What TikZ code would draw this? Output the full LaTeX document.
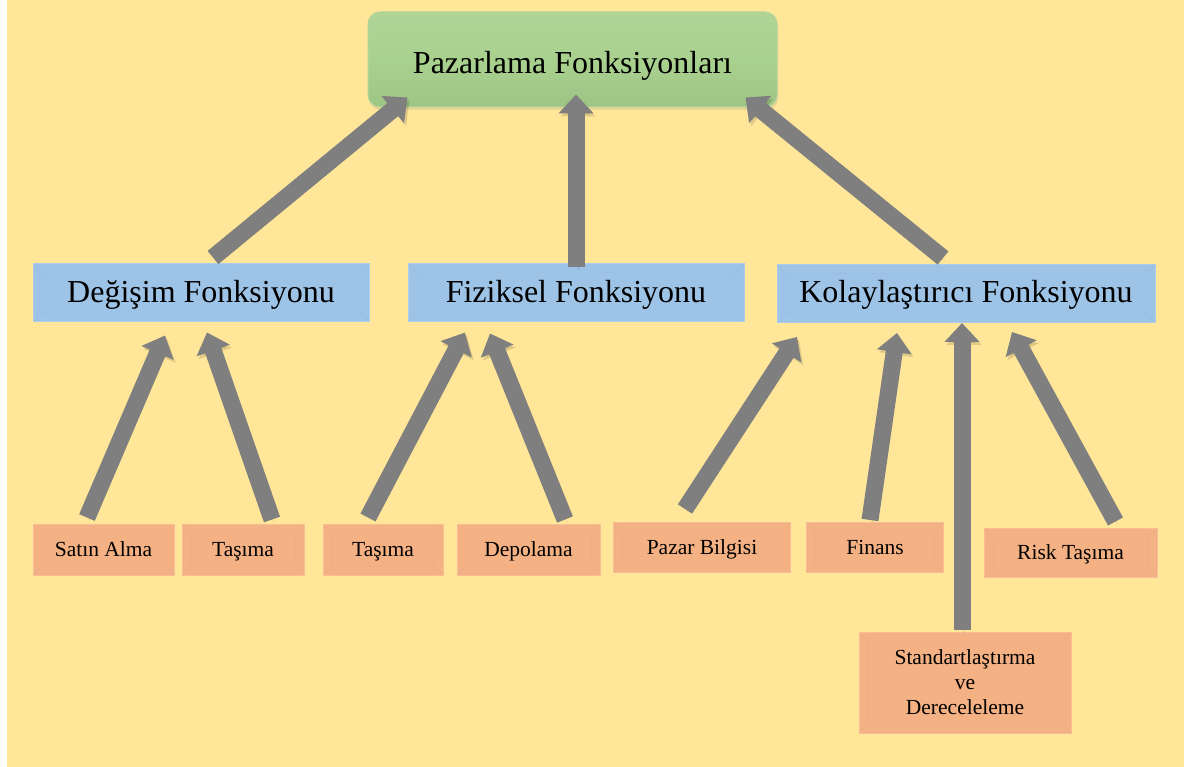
\documentclass[tikz,border=0pt]{standalone}
\usepackage{fontspec}
\setmainfont{Liberation Serif}
\usetikzlibrary{arrows.meta,calc,shadows}

\definecolor{bgyellow}{HTML}{FFE699}
\definecolor{topgreen}{HTML}{A9D18E}
\definecolor{midblue}{HTML}{9DC3E6}
\definecolor{leaforange}{HTML}{F4B183}
\definecolor{arrowgray}{HTML}{7F7F7F}

\tikzset{
  bevel/.style={path picture={
    \coordinate (bnw) at (path picture bounding box.north west);
    \coordinate (bse) at (path picture bounding box.south east);
    \draw[#1!90!black, line width=0.5pt, opacity=0.25]
      ($(bnw)+(9,9)$) rectangle ($(bse)+(-9,-9)$)
      (bnw) -- ($(bnw)+(9,9)$)
      (bse) -- ($(bse)+(-9,-9)$)
      (bnw |- bse) -- ($(bnw |- bse)+(9,-9)$)
      (bse |- bnw) -- ($(bse |- bnw)+(-9,9)$);
  }},
  topbox/.style={rounded corners=12pt, top color=topgreen!92!white, bottom color=topgreen!94!black,
    middle color=topgreen, draw=topgreen!90!white, line width=1pt,
    minimum width=409pt, minimum height=95pt, inner sep=0pt,
    text height=35pt, text depth=6pt,
    drop shadow={opacity=0.18, shadow xshift=1pt, shadow yshift=-3pt},
    font=\fontsize{32}{38}\selectfont},
  midbox/.style={fill=midblue, draw=midblue!85!white, line width=1pt, bevel=midblue,
    minimum height=58pt, inner sep=0pt, text height=26pt, text depth=7pt,
    font=\fontsize{32}{38}\selectfont},
  leafbox/.style={fill=leaforange, draw=leaforange!85!white, line width=1pt, bevel=leaforange,
    minimum height=51pt, inner sep=0pt, align=center, font=\fontsize{21.5}{25}\selectfont},
  oneline/.style={text height=18pt, text depth=4pt},
  blockarrow/.style={draw=arrowgray, line width=17pt, -{Triangle[width=34pt,length=19pt]},
    preaction={draw=black, opacity=0.12, transform canvas={shift={(2pt,-3pt)}}}},
}

\begin{document}
\begin{tikzpicture}[x=1pt,y=-1pt]
  % canvas
  \useasboundingbox (0,0) rectangle (1184,767);
  \fill[white] (0,0) rectangle (1184,767);
  \fill[bgyellow] (7,0) rectangle (1184,767);

  % top level
  \node[topbox] (top) at (572.5,59.5) {Pazarlama Fonksiyonları};

  % second level
  \node[midbox, minimum width=336pt] (deg) at (201,293) {Değişim Fonksiyonu};
  \node[midbox, minimum width=336pt] (fiz) at (576,293) {Fiziksel Fonksiyonu};
  \node[midbox, minimum width=378pt] (kol) at (966,293.5) {Kolaylaştırıcı Fonksiyonu};

  % third level
  \node[leafbox, oneline, minimum width=141pt] (satin) at (103.5,549.5) {Satın Alma};
  \node[leafbox, oneline, minimum width=122pt] (tas1) at (243,549.5) {Taşıma};
  \node[leafbox, oneline, minimum width=120pt] (tas2) at (383,549.5) {Taşıma};
  \node[leafbox, oneline, minimum width=143pt] (depo) at (528.5,549.5) {Depolama};
  \node[leafbox, oneline, minimum width=177pt, minimum height=50pt] (pazar) at (702,547.5) {Pazar Bilgisi};
  \node[leafbox, oneline, minimum width=137pt, minimum height=50pt] (finans) at (875,547.5) {Finans};
  \node[leafbox, oneline, minimum width=173pt, minimum height=49pt] (risk) at (1070.5,552.5) {Risk Taşıma};
  \node[leafbox, minimum width=212pt, minimum height=101pt] (std) at (965,682.5)
    {Standartlaştırma\\ve\\Dereceleleme};

  % connectors into the top node
  \draw[blockarrow] ($(deg.north)+(12,-6)$) -- ($(top.south west)+(40,-10)$);
  \draw[blockarrow] ($(fiz.north)+(0,4)$) -- ($(top.south)+(3.5,-13)$);
  \draw[blockarrow] ($(kol.north)+(-23,-6)$) -- ($(top.south east)+(-32,-10)$);

  % connectors into the second level
  \draw[blockarrow] ($(satin.north)+(-16.5,-6)$) -- ($(deg.south)+(-36,13)$);
  \draw[blockarrow] ($(tas1.north)+(29,-4)$) -- ($(deg.south)+(6,10)$);
  \draw[blockarrow] ($(tas2.north)+(-15,-6)$) -- ($(fiz.south)+(-111,10)$);
  \draw[blockarrow] ($(depo.north)+(36.5,-4)$) -- ($(fiz.south)+(-86,11)$);
  \draw[blockarrow] ($(pazar.north)+(-17,-13)$) -- ($(kol.south)+(-169,14)$);
  \draw[blockarrow] ($(finans.north)+(-5,-2)$) -- ($(kol.south)+(-69,10)$);
  \draw[blockarrow] ($(std.north)+(-3,-2)$) -- ($(kol.south)+(-4,0)$);
  \draw[blockarrow] ($(risk.north)+(45,-6)$) -- ($(kol.south)+(46,9)$);
\end{tikzpicture}
\end{document}
